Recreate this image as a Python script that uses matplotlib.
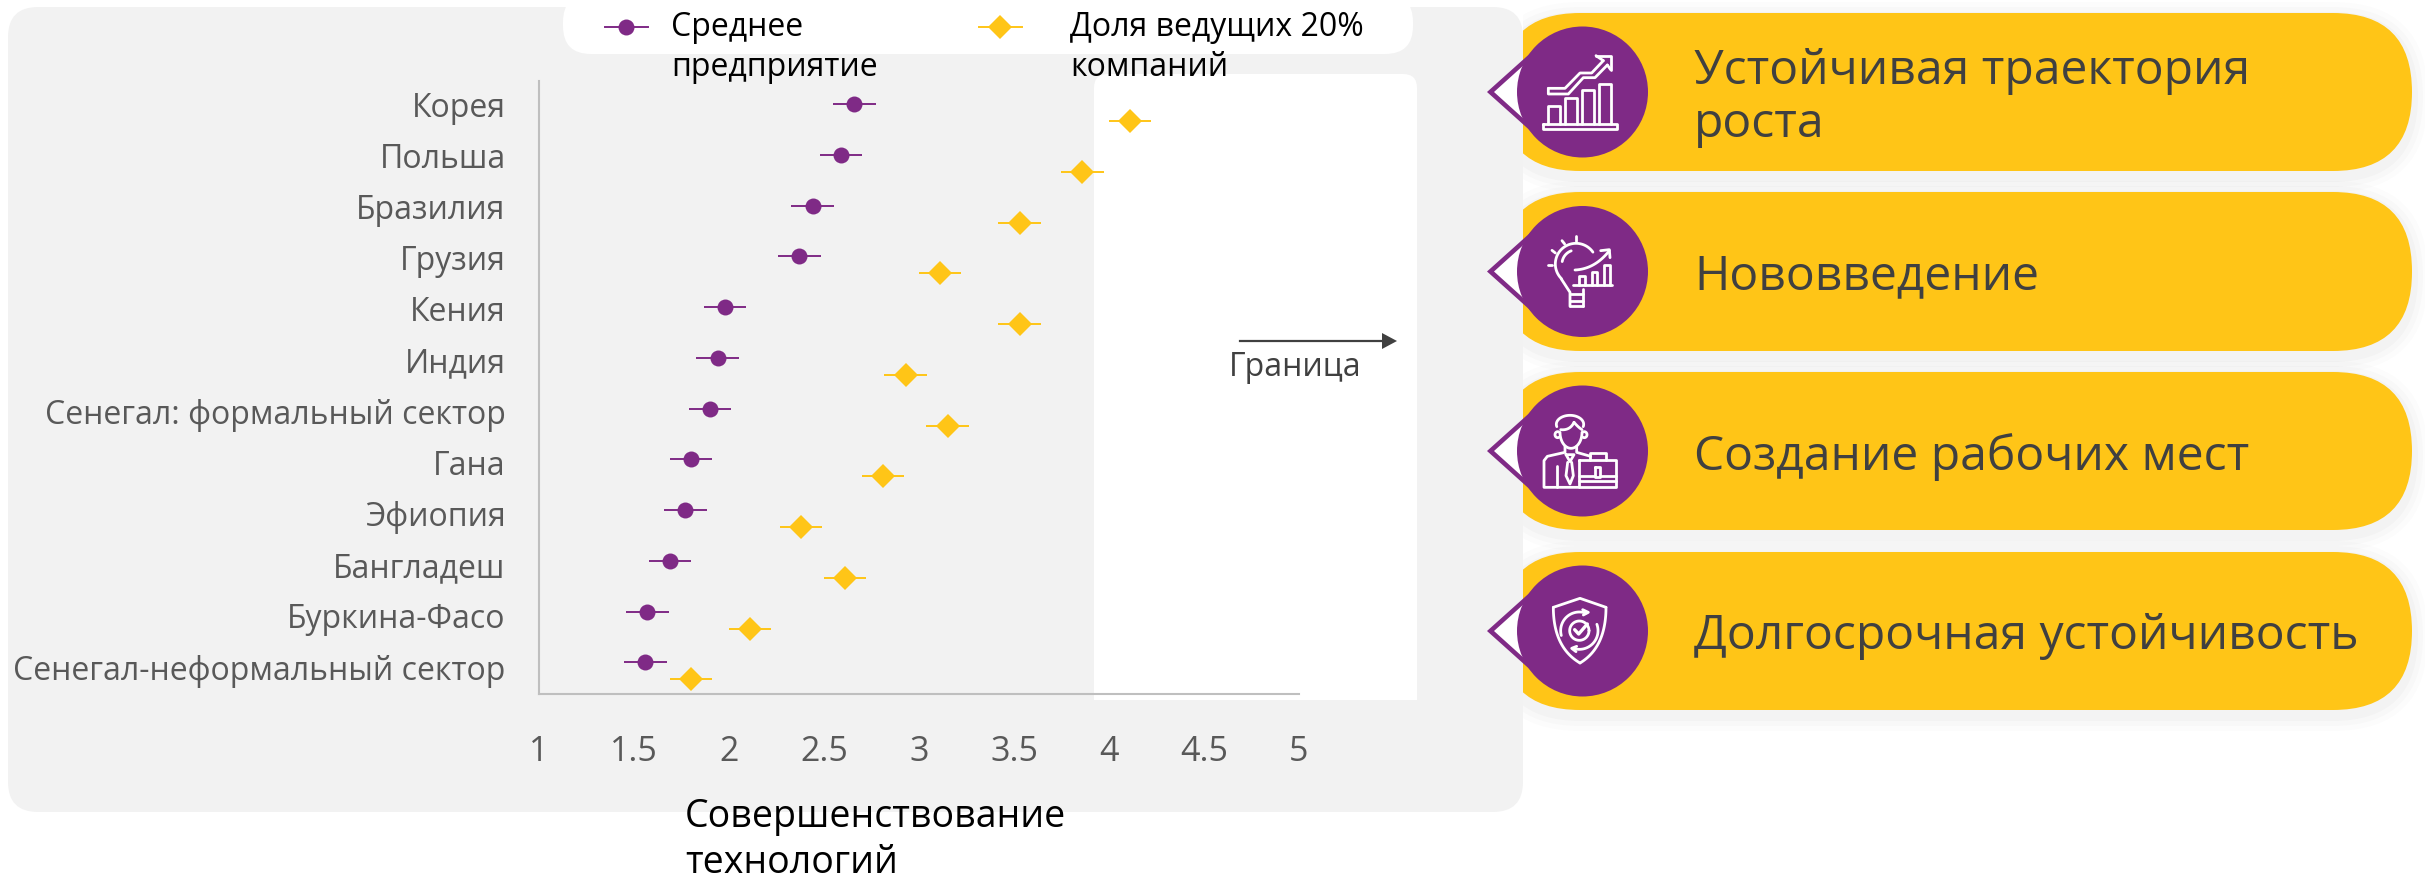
import numpy as np
import matplotlib
matplotlib.use("Agg")
import matplotlib.pyplot as plt
from matplotlib.patches import FancyBboxPatch, Rectangle, Polygon, Circle

plt.rcParams['font.family'] = ['Open Sans', 'DejaVu Sans']

W, H = 2425, 879

countries = ["Корея", "Польша", "Бразилия", "Грузия", "Кения", "Индия",
             "Сенегал: формальный сектор", "Гана", "Эфиопия", "Бангладеш",
             "Буркина-Фасо", "Сенегал-неформальный сектор"]
average_firm = [2.66, 2.59, 2.44, 2.37, 1.98, 1.94, 1.90, 1.80, 1.77, 1.69, 1.57, 1.56]
top_20 = [4.11, 3.86, 3.53, 3.11, 3.53, 2.93, 3.15, 2.81, 2.38, 2.61, 2.11, 1.80]
err_half = 0.112
x_ticks = [1, 1.5, 2, 2.5, 3, 3.5, 4, 4.5, 5]
x_tick_labels = ["1", "1.5", "2", "2.5", "3", "3.5", "4", "4.5", "5"]
legend_labels = ["Среднее\nпредприятие", "Доля ведущих 20%\nкомпаний"]
x_title = "Совершенствование\nтехнологий"
frontier_label = "Граница"
pill_labels = ["Устойчивая траектория\nроста", "Нововведение",
               "Создание рабочих мест", "Долгосрочная устойчивость"]

PURPLE = "#7F2A86"
YELLOW = "#FFC517"
PANEL = "#F2F2F2"
GREY = "#595959"
DARK = "#404040"

fig = plt.figure(figsize=(W / 100, H / 100), dpi=100, facecolor="white")

# overlay in pixel coords for everything that is not the chart itself
bg = fig.add_axes([0, 0, 1, 1], zorder=0)
bg.set_xlim(0, W)
bg.set_ylim(H, 0)
bg.axis("off")


def rbox(x0, y0, x1, y1, r, color, z=1, alpha=None):
    p = FancyBboxPatch((x0 + r, y0 + r), x1 - x0 - 2 * r, y1 - y0 - 2 * r,
                       boxstyle=f"round,pad={r},rounding_size={r}",
                       fc=color, ec="none", zorder=z, alpha=alpha)
    bg.add_patch(p)
    return p


# grey panel, legend pill, white frontier area
rbox(8, 8, 1523, 813, 30, PANEL)
rbox(563, -5, 1413, 55, 28, "white", 2)
rbox(1094, 75, 1417, 720, 14, "white", 2)
bg.add_patch(Rectangle((1094, 701), 323, 30, fc=PANEL, ec="none", zorder=2.1))

# legend
leg_x = [626, 1000]
leg_text_x = [671, 1070]
for i in range(2):
    bg.plot([leg_x[i] - 21.5, leg_x[i] + 21.5], [28, 28], lw=1.4,
            color=[PURPLE, YELLOW][i], zorder=3)
    bg.plot(leg_x[i], 28, marker=["o", "D"][i], ms=[11.5, 11.8][i], mew=0,
            color=[PURPLE, YELLOW][i], zorder=3)
    bg.text(leg_text_x[i], 47.5, legend_labels[i], fontsize=23, color="black",
            va="center", ha="left", linespacing=1.28, zorder=6)

bg.text(685, 840, x_title, fontsize=27, color="black", va="center", ha="left",
        linespacing=1.26, zorder=6)

# frontier arrow
bg.plot([1240, 1384], [342, 342], color=DARK, lw=1.6, zorder=3)
bg.add_patch(Polygon([(1382, 334), (1397, 342), (1382, 350)], fc=DARK, ec="none", zorder=3))
bg.text(1295, 368, frontier_label, fontsize=23, color=DARK, ha="center", va="center", zorder=3)

# right hand pills
pill_tops = [14, 193, 373, 553]
pill_bottoms = [172, 352, 531, 711]
pill_text_y = [97.5, 276.5, 457.5, 636.5]
for top, bottom in zip(pill_tops, pill_bottoms):
    clip = Rectangle((1523, 0), W, H, transform=bg.transData)
    for grow, a in [(16, 0.012), (11, 0.015), (6, 0.018)]:
        s = rbox(1501 - grow, top - grow + 5, 2412 + grow, bottom + grow + 5, 79 + grow, "black", 3, a)
        s.set_clip_path(clip)
    p = rbox(1501, top, 2412, bottom, 79, YELLOW, 4)
    p.set_clip_path(clip)
    cy = (top + bottom) / 2
    bg.add_patch(Polygon([(1487, cy), (1535, cy - 43), (1535, cy + 43)], fc=PURPLE, ec="none", zorder=4.5))
    bg.add_patch(Polygon([(1494, cy), (1535, cy - 37), (1535, cy + 37)], fc="white", ec="none", zorder=4.6))
    bg.add_patch(Circle((1582.5, cy), 65.5, fc=PURPLE, ec="none", zorder=5))

for txt, y in zip(pill_labels, pill_text_y):
    bg.text(1694, y, txt, fontsize=34.6, color=DARK, ha="left", va="center",
            linespacing=1.145, zorder=6)


def ln(ox, oy, xs, ys, lw=2.0):
    bg.plot(ox + np.array(xs) / 3, oy + np.array(ys) / 3, color="white", lw=lw,
            solid_capstyle="round", solid_joinstyle="round", zorder=7)


def arc(ox, oy, cx, cy, rx, ry, t0, t1, lw=2.0):
    t = np.radians(np.linspace(t0, t1, 60))
    ln(ox, oy, cx + rx * np.cos(t), cy + ry * np.sin(t), lw)


def box(ox, oy, x0, y0, x1, y1, lw=2.0):
    ln(ox, oy, [x0, x1, x1, x0, x0], [y0, y0, y1, y1, y0], lw)


def bez(ox, oy, p0, p1, p2, lw=2.0):
    t = np.linspace(0, 1, 40)
    xs = (1 - t) ** 2 * p0[0] + 2 * t * (1 - t) * p1[0] + t ** 2 * p2[0]
    ys = (1 - t) ** 2 * p0[1] + 2 * t * (1 - t) * p1[1] + t ** 2 * p2[1]
    ln(ox, oy, xs, ys, lw)


# chart icon
ox, oy = 1470, 0
for x0, x1, y0 in [(235, 270, 322), (285, 322, 298), (335, 372, 272), (388, 422, 255)]:
    ln(ox, oy, [x0, x0, x1, x1], [375, y0, y0, 375])
box(ox, oy, 218, 375, 440, 390)
ln(ox, oy, [235, 285, 330, 365, 400], [268, 268, 222, 222, 185])
ln(ox, oy, [235, 235, 295, 340, 375, 412], [268, 285, 285, 236, 236, 198])
ln(ox, oy, [378, 422, 422], [170, 170, 212])
ln(ox, oy, [378, 400], [170, 185])
ln(ox, oy, [412, 422], [198, 212])

# bulb icon
ox, oy = 1470, 180
arc(ox, oy, 318, 255, 62, 62, 135, 325)
ln(ox, oy, [274, 300, 300], [300, 340, 382])
ln(ox, oy, [340, 340], [330, 382])
ln(ox, oy, [300, 340], [345, 345])
ln(ox, oy, [300, 340], [365, 365])
ln(ox, oy, [300, 340], [382, 382])
arc(ox, oy, 318, 255, 42, 42, 190, 250)
ln(ox, oy, [234, 246], [258, 258])
ln(ox, oy, [246, 256], [214, 222])
ln(ox, oy, [276, 284], [185, 195])
ln(ox, oy, [319, 319], [172, 185])
for x0, x1, y0 in [(327, 345, 292), (365, 382, 280), (403, 420, 257)]:
    ln(ox, oy, [x0, x0, x1, x1], [318, y0, y0, 318])
ln(ox, oy, [310, 425], [318, 318])
bez(ox, oy, (315, 273), (375, 270), (418, 215))
ln(ox, oy, [392, 418, 420], [215, 212, 236])

# person icon
ox, oy = 1470, 360
arc(ox, oy, 303, 220, 33, 48, 0, 180)
arc(ox, oy, 300, 196, 41, 27, 165, 375)
bez(ox, oy, (272, 212), (300, 215), (312, 190))
bez(ox, oy, (312, 190), (325, 205), (336, 212))
arc(ox, oy, 263, 227, 8, 9, 60, 300)
arc(ox, oy, 343, 227, 8, 9, -120, 120)
ln(ox, oy, [285, 285, 232, 222, 222, 328], [262, 280, 292, 305, 385, 385])
ln(ox, oy, [320, 320, 362], [262, 280, 292])
ln(ox, oy, [260, 260], [320, 385])
ln(ox, oy, [288, 300, 312, 288], [287, 308, 287, 287])
ln(ox, oy, [293, 288, 300, 310, 305], [310, 350, 375, 350, 310])
box(ox, oy, 328, 303, 437, 385)
ln(ox, oy, [328, 437], [365, 365])
ln(ox, oy, [328, 375], [350, 350])
ln(ox, oy, [390, 437], [350, 350])
ln(ox, oy, [360, 360, 408, 408], [303, 283, 283, 303])
box(ox, oy, 375, 325, 390, 355)

# shield icon
ox, oy = 1470, 540
ln(ox, oy, [250, 330, 408], [205, 178, 205])
bez(ox, oy, (250, 205), (250, 325), (330, 372))
bez(ox, oy, (408, 205), (408, 325), (330, 372))
arc(ox, oy, 328, 275, 29, 29, 0, 360)
arc(ox, oy, 328, 275, 56, 56, 165, 290)
arc(ox, oy, 328, 275, 56, 56, -20, 110)
ln(ox, oy, [338, 355, 340], [212, 220, 228])
ln(ox, oy, [320, 305, 318], [322, 328, 338])
ln(ox, oy, [314, 326, 352], [272, 285, 255], 2.4)

# chart itself
ax = fig.add_axes([539 / W, 1 - 695 / H, (1299 - 539) / W, (695 - 82) / H], zorder=2)
ax.patch.set_visible(False)
band = 50.75
ax.set_xlim(1, 5)
# ylim so row 0 centre lands at y=113.5 px
ax.set_ylim((695 - 113.5) / band, (82 - 113.5) / band)
rows = np.arange(len(countries))
offset = 8.5 / band
ax.errorbar(average_firm, rows - offset, xerr=err_half, fmt="o", color=PURPLE, ms=11.5, mew=0,
            elinewidth=1.4, capsize=0, clip_on=False)
ax.errorbar(top_20, rows + offset, xerr=err_half, fmt="D", color=YELLOW, ms=11.8, mew=0,
            elinewidth=1.4, capsize=0, clip_on=False)
# labels sit on a slightly wider spacing than the markers in the original
ax.set_yticks(rows * 51.2 / band - 9.5 / band)
ax.set_yticklabels(countries, fontsize=23, color=GREY)
ax.set_xticks(x_ticks)
ax.set_xticklabels(x_tick_labels, fontsize=24.5, color=GREY)
ax.tick_params(axis="y", length=0, pad=24)
ax.tick_params(axis="x", length=0, pad=29)
for s in ["top", "right"]:
    ax.spines[s].set_visible(False)
for s in ["left", "bottom"]:
    ax.spines[s].set_color("#BFBFBF")
    ax.spines[s].set_linewidth(1.5)

fig.savefig("out.png", dpi=100)
